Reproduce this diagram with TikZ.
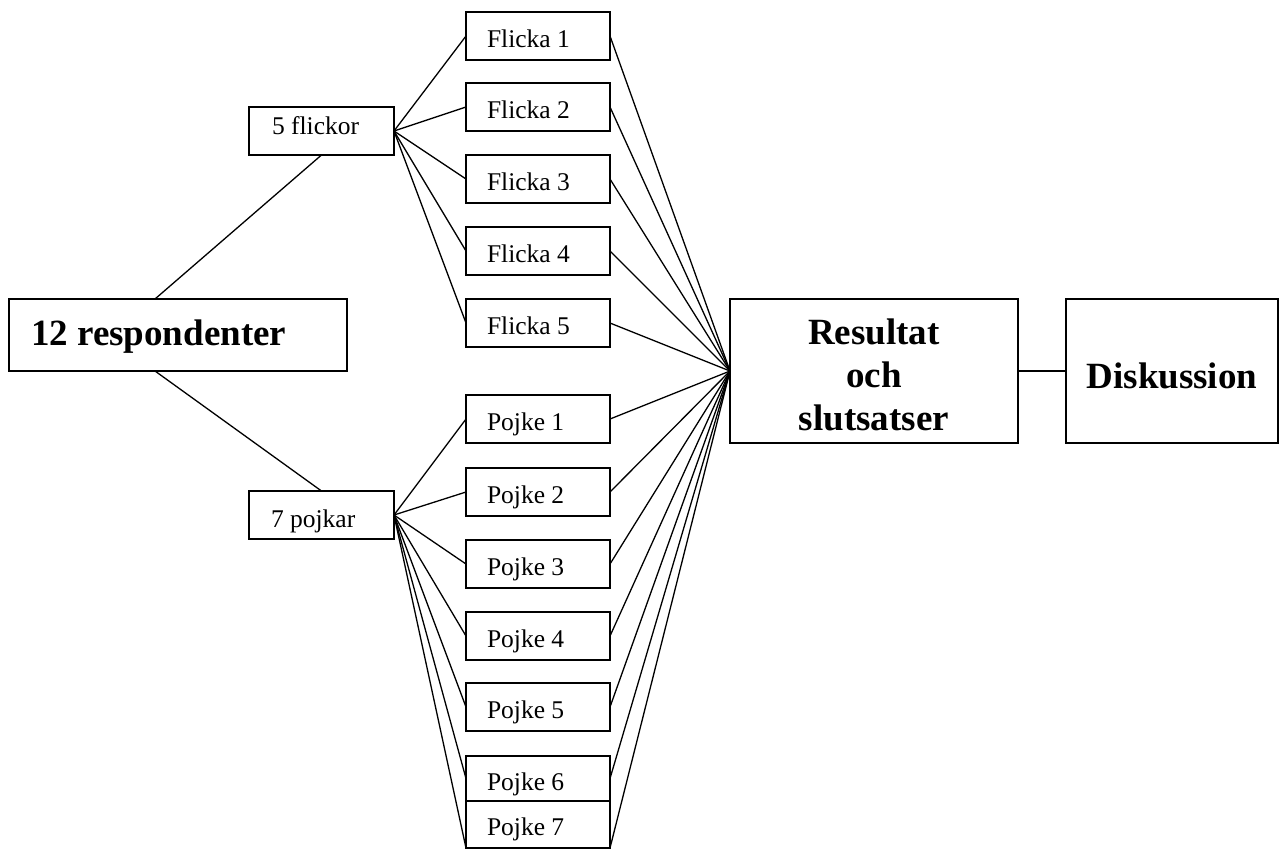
\documentclass[tikz,border=0pt]{standalone}
\usepackage{fontspec}
\setmainfont{Liberation Serif}
\usetikzlibrary{calc}
\begin{document}
\begin{tikzpicture}[x=1pt,y=-1pt,
  box/.style={draw, line width=1.6pt, inner ysep=0pt, outer sep=0pt, anchor=north west, align=flush left},
  small/.style={font=\fontsize{25.5}{30}\selectfont},
  big/.style={font=\fontsize{37}{43}\selectfont\bfseries},
  kid/.style={box, small, fill=white, inner xsep=21pt, text width=102pt, text height=35pt, text depth=13pt},
  link/.style={line width=1.3pt}]
\useasboundingbox (0,0) rectangle (1280,849);

% main boxes
\node[box, big, inner xsep=22pt, text width=294pt, text height=46pt, text depth=26pt] (r) at (9,299) {12 respondenter};
\node[box, small, inner xsep=23pt, text width=99pt, text height=27pt, text depth=21pt] (fl) at (249,107) {5 flickor};
\node[box, small, inner xsep=22pt, text width=101pt, text height=36pt, text depth=12pt] (pj) at (249,491) {7 pojkar};
\node[box, big, align=flush center, inner xsep=0pt, text width=288pt, text height=45pt, text depth=99pt] (res) at (730,299) {Resultat\\och\\slutsatser};
\node[box, big, align=flush center, inner xsep=0pt, text width=212pt, text height=89pt, text depth=55pt] (dis) at (1066,299) {Diskussion};

% girls
\foreach \i/\t in {1/12,2/83,3/155,4/227,5/299}
  \node[kid] (f\i) at (466,\t) {Flicka \i};
% boys
\foreach \i/\t in {1/395,2/468,3/540,4/612,5/683}
  \node[kid] (p\i) at (466,\t) {Pojke \i};
\node[kid, text height=34pt, text depth=11pt] (p6) at (466,756) {Pojke 6};
\node[kid, text height=34pt, text depth=13pt] (p7) at (466,801) {Pojke 7};

% connectors
\coordinate (ra) at ($(r.north west)+(146,0)$);
\coordinate (rb) at ($(r.south west)+(146,0)$);
\draw[link] (ra) -- (fl.south);
\draw[link] (rb) -- (pj.north);
\foreach \i in {1,...,5} {
  \draw[link] (fl.east) -- (f\i.west);
  \draw[link] (f\i.east) -- (res.west);
}
\foreach \i in {1,...,6} {
  \draw[link] (pj.east) -- (p\i.west);
  \draw[link] (p\i.east) -- (res.west);
}
\draw[link] (pj.east) -- (p7.south west);
\draw[link] (p7.south east) -- (res.west);
\draw[link] (res.east) -- (dis.west);
\end{tikzpicture}
\end{document}
